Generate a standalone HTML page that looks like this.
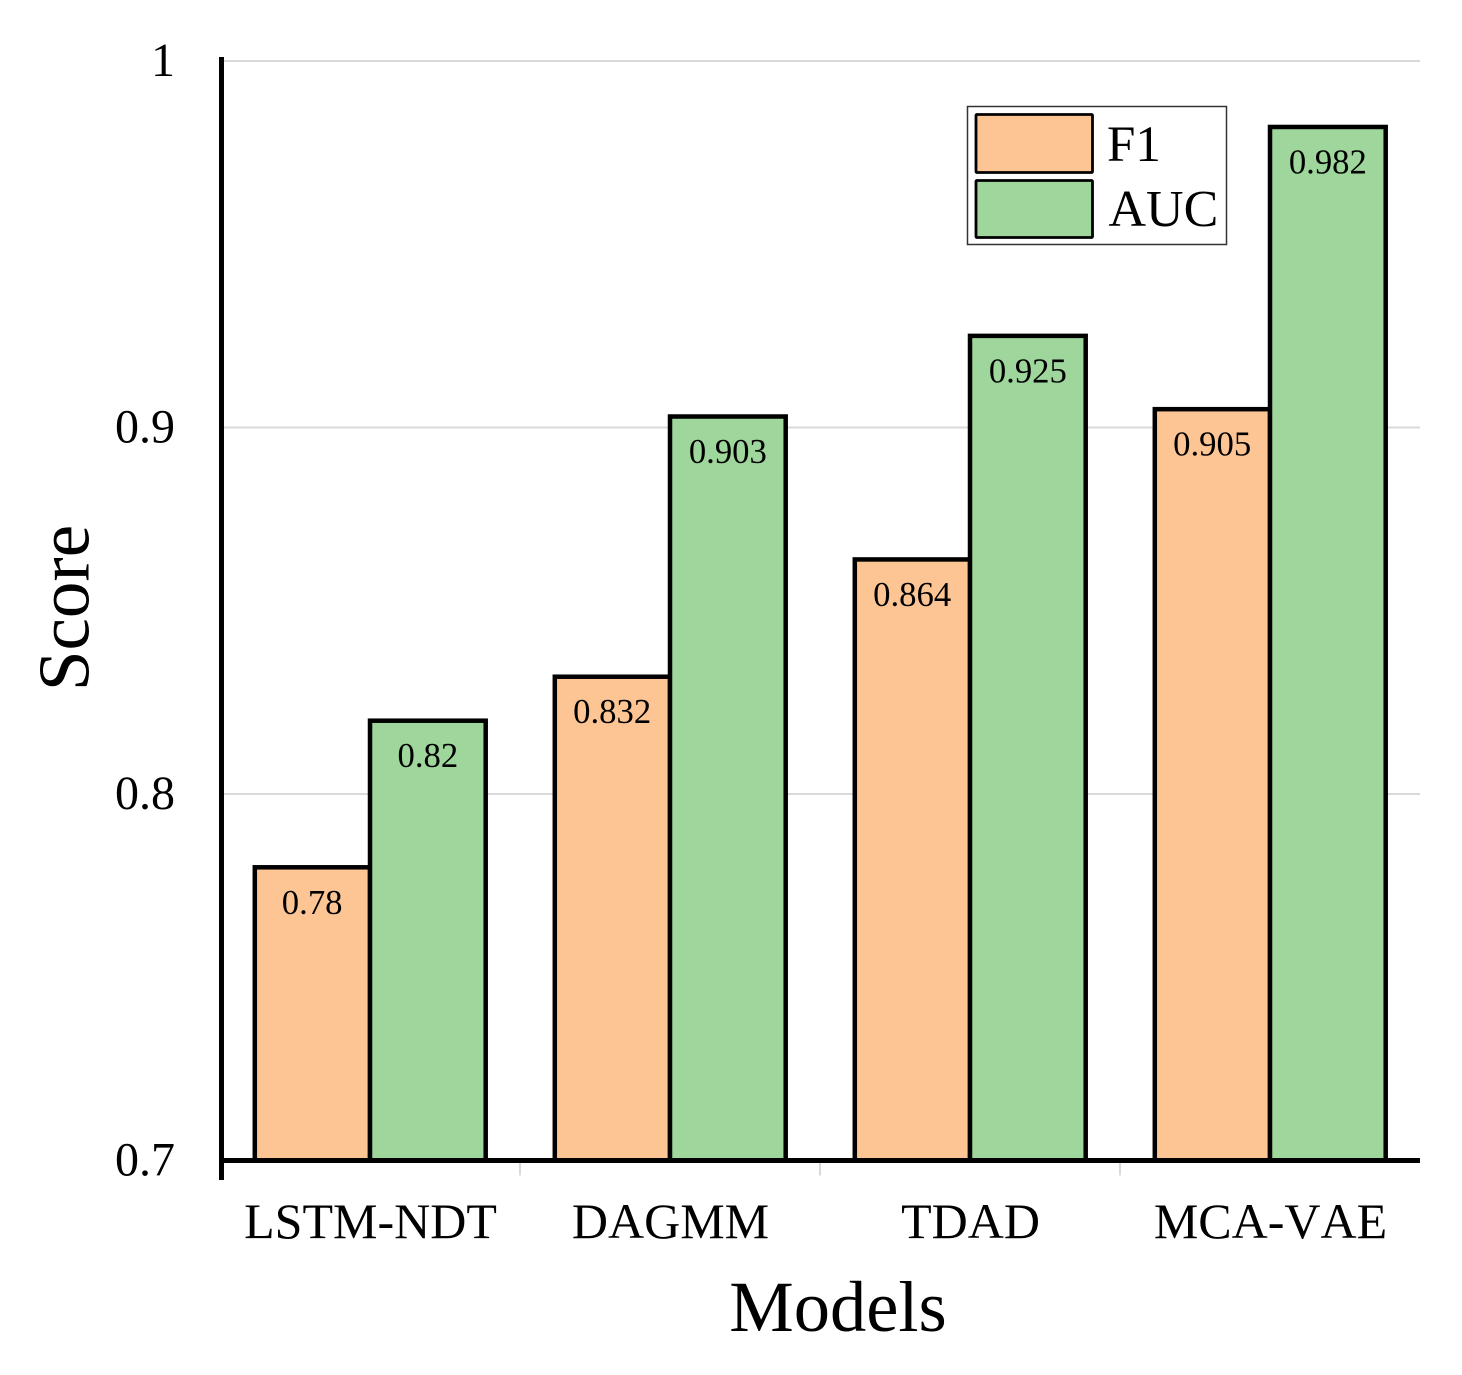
<!DOCTYPE html>
<html>
<head>
<meta charset="utf-8">
<style>
html,body{margin:0;padding:0;background:#fff;}
svg{display:block;}
text{font-family:"Liberation Serif",serif;fill:#000;font-kerning:none;}
</style>
</head>
<body>
<svg id="chart" xmlns="http://www.w3.org/2000/svg" width="1462" height="1375" viewBox="0 0 1462 1375"></svg>
<script>
const categories = ['LSTM-NDT', 'DAGMM', 'TDAD', 'MCA-VAE'];
const f1Values = [0.78, 0.832, 0.864, 0.905];
const aucValues = [0.82, 0.903, 0.925, 0.982];
const yTicks = [0.7, 0.8, 0.9, 1];
const yTickLabels = ['0.7', '0.8', '0.9', '1'];
const f1Labels = ['0.78', '0.832', '0.864', '0.905'];
const aucLabels = ['0.82', '0.903', '0.925', '0.982'];

const NS = 'http://www.w3.org/2000/svg';
const svg = document.getElementById('chart');
const left = 221.5, right = 1420, y0 = 1160.5, y1 = 61;
const bandStart = 220;
const yMin = 0.7, yMax = 1;
const yScale = v => y0 + (v - yMin) / (yMax - yMin) * (y1 - y0);
const band = (right - bandStart) / categories.length;
const xCenter = i => bandStart + band * (i + 0.5);
const f1W = 115.2, aucW = 115.7;

function make(tag, attrs, text) {
  const el = document.createElementNS(NS, tag);
  for (const k in attrs) el.setAttribute(k, attrs[k]);
  if (text !== undefined) el.textContent = text;
  svg.appendChild(el);
  return el;
}

// gridlines
yTicks.forEach((t, i) => {
  if (t === yMin) return;
  const g = make('line', {x1: left, x2: right, y1: yScale(t), y2: yScale(t), stroke: '#d9d9d9', 'stroke-width': 2});
  
  
});

// x separators
for (let i = 1; i < categories.length; i++) {
  const x = bandStart + band * i;
  const s = make('line', {x1: x, x2: x, y1: y0, y2: y0 + 15, stroke: '#d9d9d9', 'stroke-width': 2});
  
  
}

// bars
function drawBar(x, w, v, fill, name) {
  const y = yScale(v);
  const r = make('rect', {x: x, y: y, width: w, height: y0 - y, fill: fill, stroke: '#000', 'stroke-width': 4.5});
  
  
}
function drawValue(cx, v, label, name) {
  const t = make('text', {x: cx, y: yScale(v) + 46.5, 'font-size': 34.7, 'text-anchor': 'middle'}, label);
  
  
}
categories.forEach((c, i) => {
  drawBar(xCenter(i) - f1W, f1W, f1Values[i], '#fdc594', 'bar-f1-' + c.toLowerCase());
});
categories.forEach((c, i) => {
  drawBar(xCenter(i), aucW, aucValues[i], '#9ed69b', 'bar-auc-' + c.toLowerCase());
});
categories.forEach((c, i) => {
  drawValue(xCenter(i) - aucW / 2, f1Values[i], f1Labels[i], 'value-f1-' + c.toLowerCase());
  drawValue(xCenter(i) + aucW / 2, aucValues[i], aucLabels[i], 'value-auc-' + c.toLowerCase());
});

// axes
const ax = make('line', {x1: left, x2: left, y1: 57, y2: 1180, stroke: '#000', 'stroke-width': 5});


const ay = make('line', {x1: left, x2: right, y1: y0, y2: y0, stroke: '#000', 'stroke-width': 5});



// y tick labels
yTicks.forEach((t, i) => {
  const l = make('text', {x: 175, y: yScale(t) + 15, 'font-size': 48, 'text-anchor': 'end'}, yTickLabels[i]);
  
  
});

// x tick labels
categories.forEach((c, i) => {
  const l = make('text', {x: xCenter(i) + 0.5, y: 1238, 'font-size': 50, 'text-anchor': 'middle'}, c);
  
  
});

// axis titles
const xt = make('text', {x: 838, y: 1331, 'font-size': 72.5, 'text-anchor': 'middle'}, 'Models');


const yt = make('text', {x: 0, y: 0, 'font-size': 73, 'text-anchor': 'middle', transform: 'translate(88.5,608) rotate(-90)'}, 'Score');



// legend
const lb = make('rect', {x: 967.5, y: 106.5, width: 259, height: 138, fill: '#fff', stroke: '#333', 'stroke-width': 1.5});


const s1 = make('rect', {x: 976, y: 114.5, width: 116.5, height: 58, fill: '#fdc594', stroke: '#000', 'stroke-width': 2.8, rx: 1});


const s2 = make('rect', {x: 976, y: 180.5, width: 116.5, height: 57, fill: '#9ed69b', stroke: '#000', 'stroke-width': 2.8, rx: 1});


const l1 = make('text', {x: 1107, y: 161, 'font-size': 51}, 'F1');


const l2 = make('text', {x: 1108.5, y: 226, 'font-size': 52}, 'AUC');


</script>
</body>
</html>
